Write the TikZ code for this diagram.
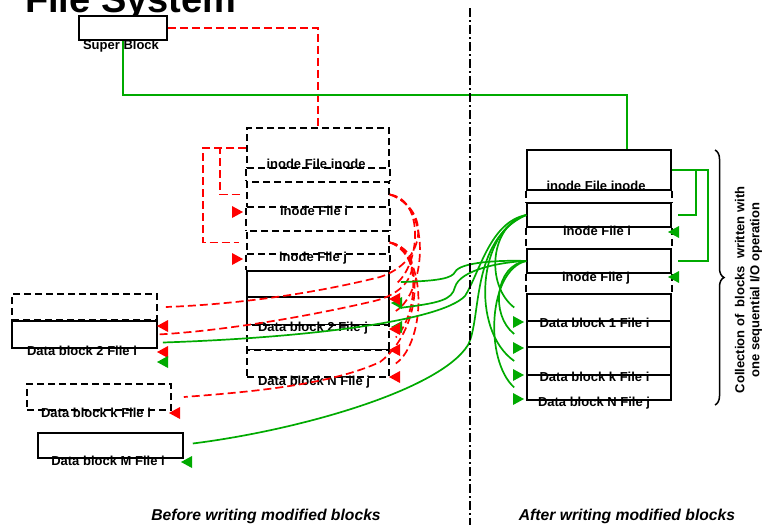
\documentclass[tikz,border=0pt]{standalone}
\usepackage{fontspec}
\setmainfont{Liberation Sans}
\usepackage{tikz}
\usetikzlibrary{decorations.pathreplacing}
\definecolor{FSRed}{HTML}{FF0000}
\definecolor{FSGreen}{HTML}{00AA00}
\tikzset{
  blk/.style={draw,line width=1.6pt,fill=white,inner sep=0pt},
  oldblk/.style={blk,dash pattern=on 7pt off 4pt},
  oldside/.style={line width=1.6pt,dash pattern=on 7pt off 4pt},
  lbl/.style={font=\bfseries\fontsize{13}{14}\selectfont,inner sep=0pt,anchor=base},
  newlink/.style={FSGreen,line width=1.7pt},
  oldlink/.style={FSRed,line width=1.7pt,dash pattern=on 8pt off 4pt},
}
% arrow heads sit apart from their lines
\newcommand\headL[3]{\fill[#1] (#2,#3) -- ++(11,-6) -- ++(0,12) -- cycle;}
\newcommand\headR[3]{\fill[#1] (#2,#3) -- ++(-11,-6) -- ++(0,12) -- cycle;}

\begin{document}
\begin{tikzpicture}[x=1pt,y=-1pt]
\useasboundingbox (0,0) rectangle (762,525);
\node[anchor=base west,inner sep=0pt,font=\bfseries\fontsize{38}{40}\selectfont] (title) at (25,12) {File System};

% super block
\node[blk,minimum width=88pt,minimum height=24pt] (super) at (123,28) {};
\node[lbl] (superL) at (121,49) {Super Block};

% before: blocks in place
\node[oldblk,minimum width=142pt,minimum height=40pt] (bInode) at (318,148) {};
\node[oldblk,minimum width=142pt,minimum height=25pt] (bInoI) at (318,194.5) {};
\node[oldblk,minimum width=142pt,minimum height=23pt] (bInoJ) at (318,242.5) {};
\node[blk,minimum width=142pt,minimum height=26pt] (bDat1J) at (318,284) {};
\node[blk,minimum width=142pt,minimum height=28pt] (bDat2J) at (318,311) {};
\node[oldblk,minimum width=142pt,minimum height=25pt] (bDatKJ) at (318,337.5) {};
\node[oldblk,minimum width=142pt,minimum height=27pt] (bDatNJ) at (318,363.5) {};
\draw[oldside] (bInode.south west) -- (bInoI.north west) (bInode.south east) -- (bInoI.north east);
\draw[oldside] (bInoI.south west) -- (bInoJ.north west) (bInoI.south east) -- (bInoJ.north east);
\draw[oldside] (bInoJ.south west) -- (bDat1J.north west) (bInoJ.south east) -- (bDat1J.north east);
\node[lbl] (bInodeL) at (316,168) {inode File inode};
\node[lbl] (bInoIL) at (314,215) {inode File i};
\node[lbl] (bInoJL) at (313,261) {inode File j};
\node[lbl] (bDat2JL) at (313,331) {Data block 2 File j};
\node[lbl] (bDatNJL) at (314,385) {Data block N File j};

\node[oldblk,minimum width=145pt,minimum height=26pt] (bDat1I) at (84.5,307) {};
\node[blk,minimum width=145pt,minimum height=27pt] (bDat2I) at (84.5,334.5) {};
\node[oldblk,minimum width=144pt,minimum height=26pt] (bDatKI) at (99,397) {};
\node[blk,minimum width=145pt,minimum height=25pt] (bDatMI) at (110.5,445.5) {};
\node[lbl] (bDat2IL) at (82,355) {Data block 2 File i};
\node[lbl] (bDatKIL) at (96,417) {Data block k File i};
\node[lbl] (bDatMIL) at (108,465) {Data block M File i};

% after: one sequential run
\node[blk,minimum width=144pt,minimum height=40pt] (aInode) at (599,170) {};
\node[blk,minimum width=144pt,minimum height=24pt] (aInoI) at (599,215) {};
\node[blk,minimum width=144pt,minimum height=24pt] (aInoJ) at (599,261) {};
\node[blk,minimum width=144pt,minimum height=27pt] (aDat1I) at (599,307.5) {};
\node[blk,minimum width=144pt,minimum height=26pt] (aDat2I) at (599,334) {};
\node[blk,minimum width=144pt,minimum height=28pt] (aDatKI) at (599,361) {};
\node[blk,minimum width=144pt,minimum height=25pt] (aDatNJ) at (599,387.5) {};
\draw[oldside] (aInode.south west) -- (aInoI.north west) (aInode.south east) -- (aInoI.north east);
\draw[oldside] (aInoI.south west) -- (aInoJ.north west) (aInoI.south east) -- (aInoJ.north east);
\draw[oldside] (aInoJ.south west) -- (aDat1I.north west) (aInoJ.south east) -- (aDat1I.north east);
\node[lbl] (aInodeL) at (596,190) {inode File inode};
\node[lbl] (aInoIL) at (597,235) {inode File i};
\node[lbl] (aInoJL) at (596,281) {inode File j};
\node[lbl] (aDat1IL) at (594.5,327) {Data block 1 File i};
\node[lbl] (aDatKIL) at (594.5,381) {Data block k File i};
\node[lbl] (aDatNJL) at (594,406) {Data block N File j};

% old pointers
\draw[oldlink] (super.east) -| (bInode.north);
\draw[oldlink] (bInode.west) -- ++(-26,0) |- ([xshift=-5pt]bInoI.west);
\draw[oldlink] (bInode.west) -- ++(-43,0) |- ([xshift=-7pt]bInoJ.west);
\draw[oldlink] (bInoI.east) .. controls (425,200) and (420,265) .. ([xshift=6pt]bDat1J.east);
\draw[oldlink] (bInoI.east) .. controls (432,205) and (426,292) .. ([xshift=6pt]bDat2J.east);
\draw[oldlink] (bInoJ.east) .. controls (420,246) and (420,312) .. ([xshift=6pt]bDatKJ.east);
\draw[oldlink] (bInoJ.east) .. controls (428,252) and (426,342) .. ([xshift=6pt]bDatNJ.east);
\draw[oldlink] (bInoI.east) .. controls (432,210) and (426,262) .. (380,277) .. controls (300,297) and (220,305) .. ([xshift=8pt]bDat1I.east);
\draw[oldlink] (bInoJ.east) .. controls (424,250) and (420,292) .. (370,302) .. controls (300,318) and (220,331) .. (bDat2I.east);
\draw[oldlink] (bInoJ.east) .. controls (428,256) and (420,332) .. (380,362) .. controls (330,385) and (250,392) .. ([xshift=12pt]bDatKI.east);

% new pointers
\draw[newlink] (super.south) -- (123,95) -| ([xshift=28pt]aInode.north);
\draw[newlink] (aInode.east) -- ++(24,0) |- ([xshift=6pt]aInoI.east);
\draw[newlink] (aInode.east) -- ++(36,0) |- ([xshift=6pt]aInoJ.east);
\draw[newlink] (aInoI.west) .. controls (490,225) and (485,285) .. ([xshift=-12pt]aDat1I.west);
\draw[newlink] (aInoI.west) .. controls (478,230) and (470,330) .. ([xshift=-12pt]aDatKI.west);
\draw[newlink] (aInoJ.west) .. controls (495,265) and (490,315) .. ([xshift=-12pt]aDat2I.west);
\draw[newlink] (aInoJ.west) .. controls (488,270) and (484,360) .. ([xshift=-12pt]aDatNJ.west);
\draw[newlink] ([xshift=11pt,yshift=2pt]bDat1J.east) .. controls (440,281) and (452,278) .. (455,272) .. controls (460,262) and (500,260) .. (aInoJ.west);
\draw[newlink] ([xshift=9pt,yshift=3pt]bDat2J.east) .. controls (440,303) and (452,300) .. (455,287) .. controls (460,270) and (500,262) .. (aInoJ.west);
\draw[newlink] ([xshift=5pt,yshift=-8pt]bDat2I.east) .. controls (300,338) and (440,322) .. (465,296) .. controls (480,272) and (490,222) .. (aInoI.west);
\draw[newlink] ([xshift=9pt,yshift=2pt]bDatMI.east) .. controls (300,430) and (440,390) .. (468,345) .. controls (482,318) and (470,240) .. (aInoI.west);

% heads
\headR{FSRed}{243}{212}
\headR{FSRed}{243}{259}
\headL{FSRed}{157}{326}
\headL{FSRed}{157}{352}
\headL{FSGreen}{157}{362}
\headL{FSRed}{169}{413}
\headL{FSGreen}{181}{462}
\headL{FSGreen}{391}{303}
\headL{FSGreen}{391}{327}
\headL{FSRed}{389}{299}
\headL{FSRed}{389}{329}
\headL{FSRed}{389}{350}
\headL{FSRed}{389}{377}
\headR{FSGreen}{524}{322}
\headR{FSGreen}{524}{348}
\headR{FSGreen}{524}{375}
\headR{FSGreen}{524}{399}
\headL{FSGreen}{668}{232}
\headL{FSGreen}{668}{277}

% run of one write
\draw[line width=1.5pt,decorate,decoration={brace,amplitude=9pt}] (715,150) -- (715,405);
\node[rotate=90,align=center,inner sep=0pt,font=\bfseries\fontsize{13}{15}\selectfont] (runL) at (748.5,290) {Collection of\ \ blocks\ \ written with\\one sequential I/O operation};

\draw[line width=1.5pt,dash pattern=on 9pt off 3pt on 2pt off 3pt] (470,8) -- (470,525);
\node[inner sep=0pt,anchor=base,font=\bfseries\itshape\fontsize{15.7}{17}\selectfont] (beforeL) at (266,520) {Before writing modified blocks};
\node[inner sep=0pt,anchor=base,font=\bfseries\itshape\fontsize{15.7}{17}\selectfont] (afterL) at (627,520) {After writing modified blocks};
\end{tikzpicture}
\end{document}
